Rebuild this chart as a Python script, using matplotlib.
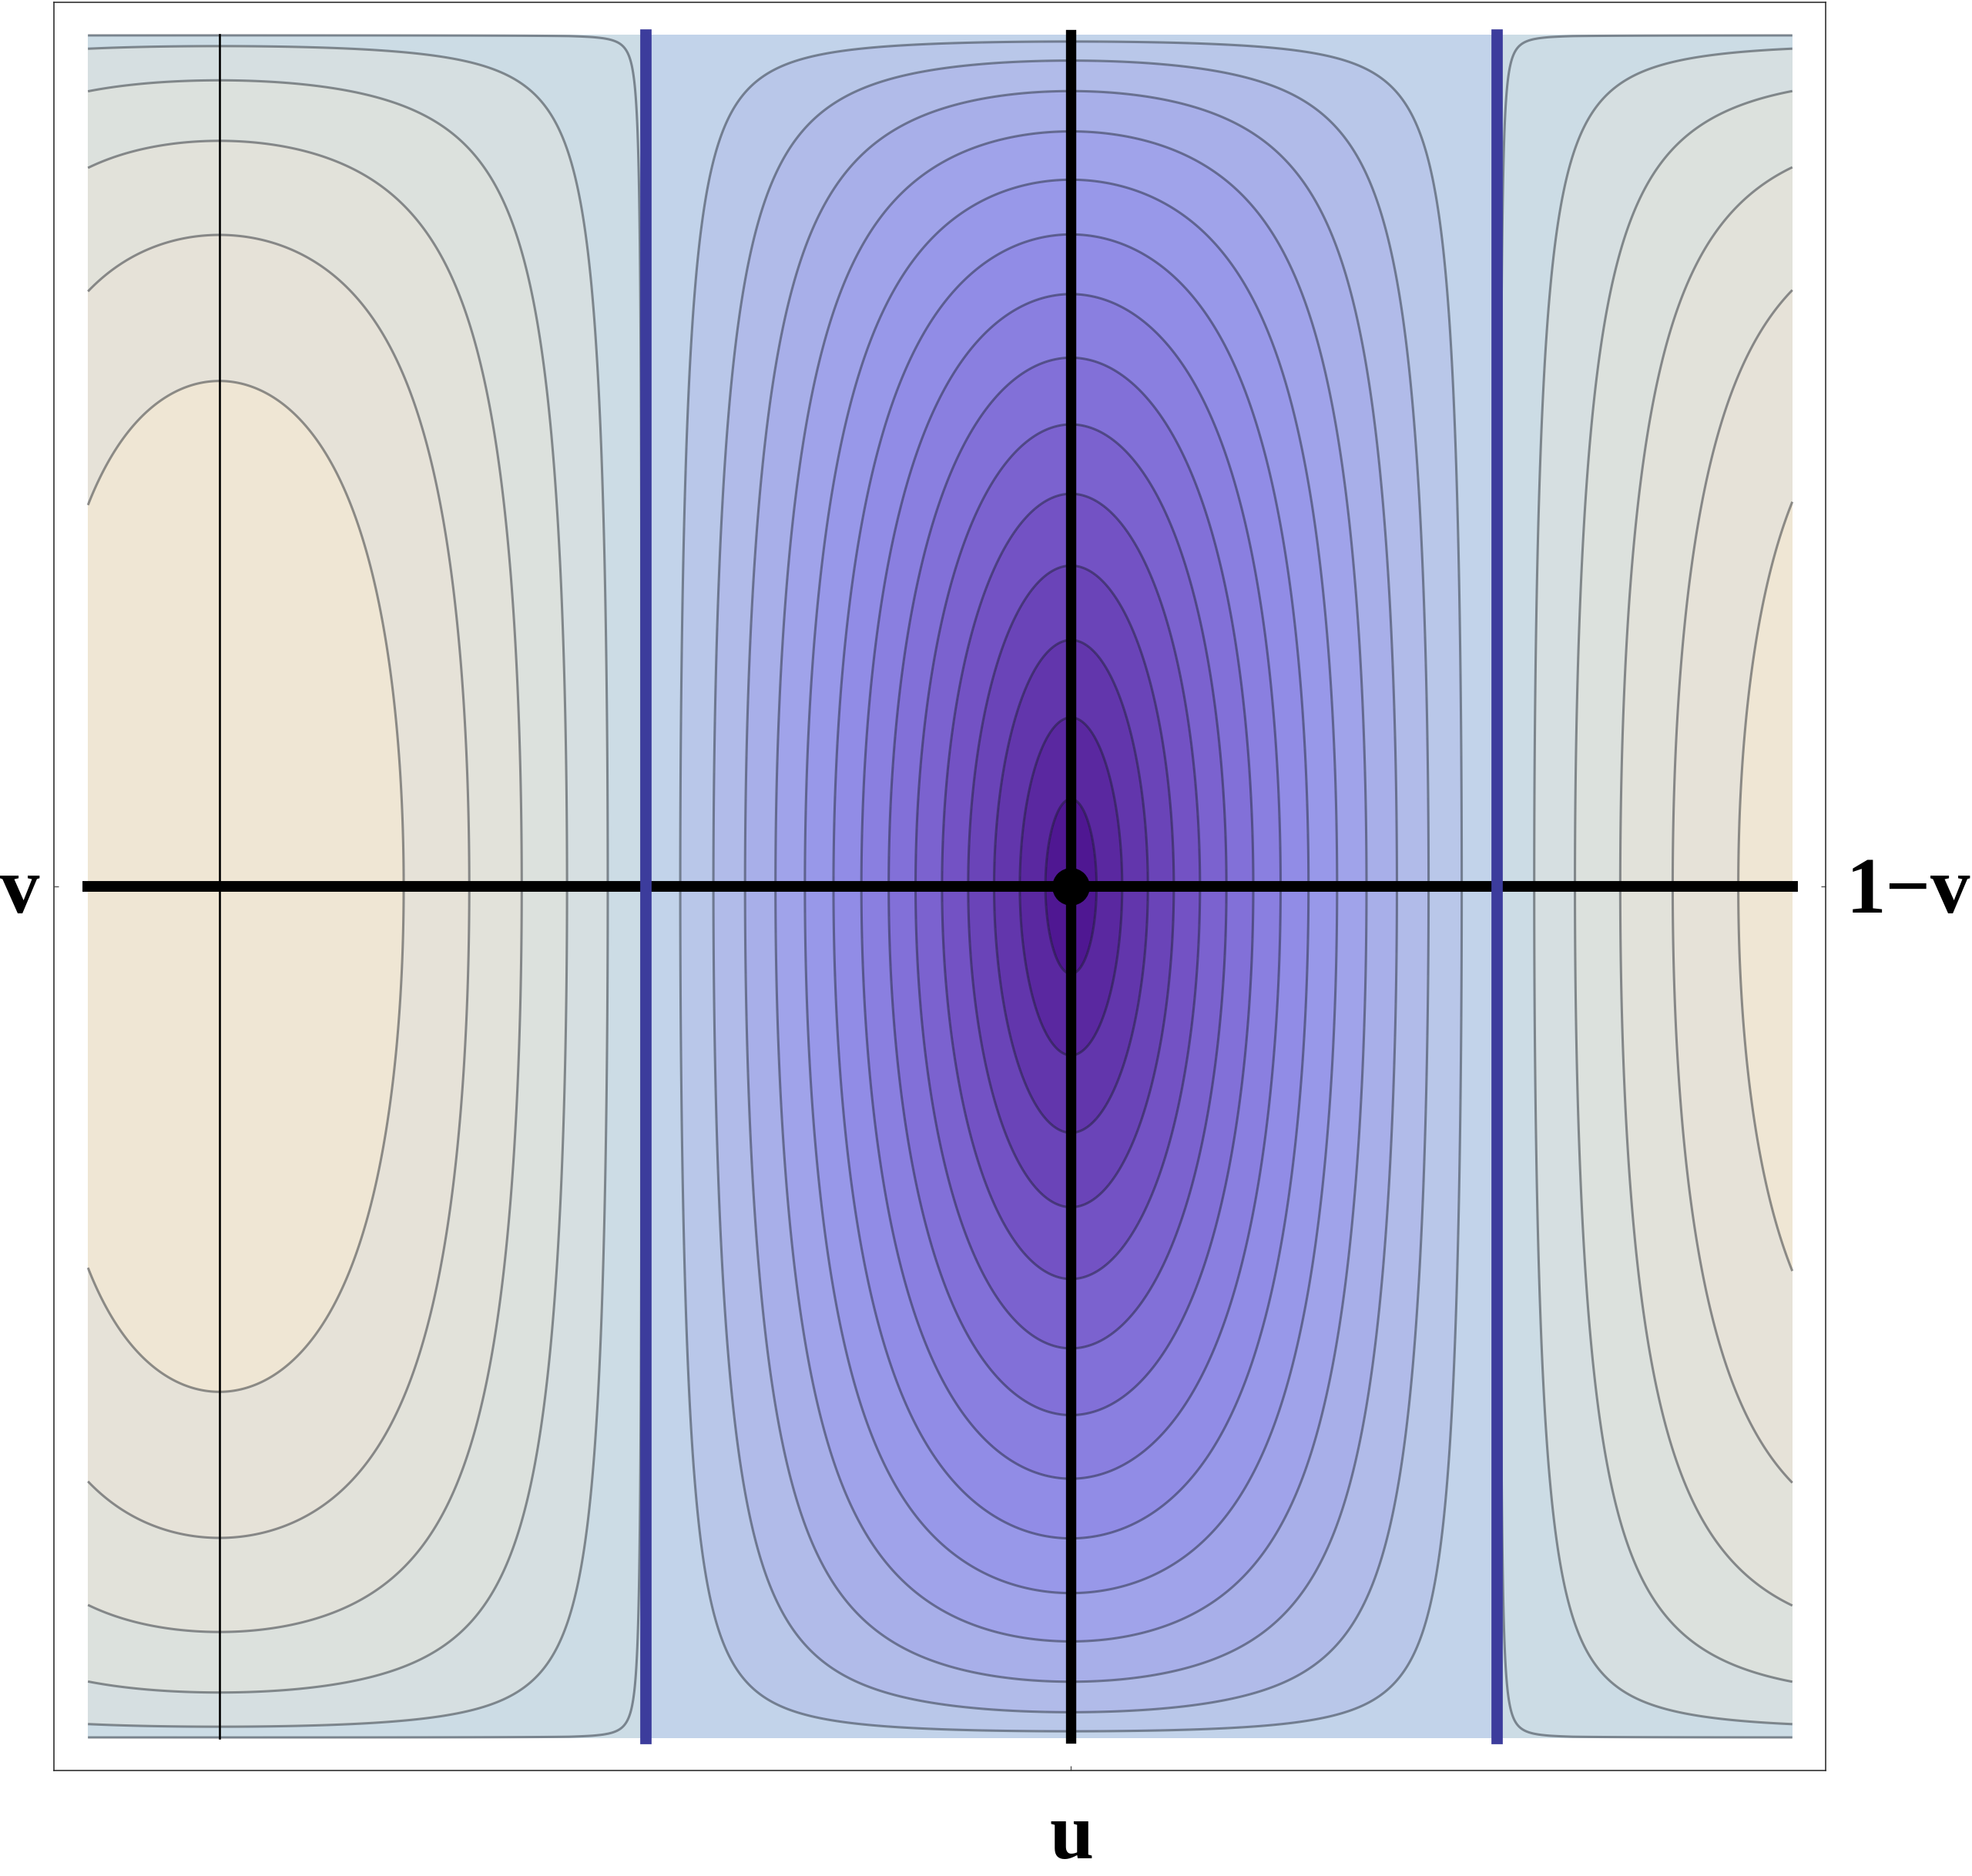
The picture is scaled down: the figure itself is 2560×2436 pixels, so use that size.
import numpy as np
import matplotlib
matplotlib.use('Agg')
import matplotlib.pyplot as plt

# window of the plot (horizontal: half periods from the centre, vertical: normalised)
u_min, u_max = -1.1544, 0.8471
s_min, s_max = -1.0, 1.0
frame_x = (-1.1942, 0.8864)
frame_y = (-1.0384, 1.0384)

# parameters of the plotted field
offset = 1 / np.sqrt(2)      # value that gives the zero contour
decay = 0.62                 # vertical fall-off of the central well
n_steps = 15                 # contour steps between the minimum and zero
level_index = np.arange(1, 21)
edge_level = 0.0046          # grey zero contour hugging the edges on the positive side

zero_lines = [-0.5, 0.5]     # thick blue zero contours
max_lines = [-1.0]           # thin black line through the maximum
centre = [0.0, 0.0]

side_labels = ['v', '1\u2212v']
bottom_label = 'u'

band_colors = ['#4f1792', '#5a28a0', '#6236ac', '#6a44b8', '#7352c4', '#7b62cf',
               '#8270d8', '#8a7fe0', '#918ce6', '#9898e9', '#a0a3ea', '#a8afe9',
               '#b1bbe9', '#b9c7e9', '#c2d3ea', '#ccdce5', '#d6dfe1', '#dce1dd',
               '#e2e2da', '#e6e2d8', '#efe6d4']

levels = -offset + level_index * offset / n_steps

u = np.linspace(u_min, u_max, 1600)
s = np.linspace(s_min, s_max, 1600)
U, S = np.meshgrid(u, s)
sn = np.abs(np.sin(np.pi * U / 2))
g = np.where(np.abs(U) < 0.5, np.cos(np.pi * U) ** 2, 0.0)
q = offset * (1 - np.exp(-decay * np.abs(S)))
rho = np.sqrt(sn ** 2 + g * q ** 2)
F = np.sqrt(np.clip(1 - S ** 2, 0, None)) * (rho - offset)

fig = plt.figure(figsize=(25.6, 24.36), dpi=100)
ax = fig.add_axes([70.2 / 2560, 137 / 2436, 2300 / 2560, 2296 / 2436])

bounds = np.concatenate([[F.min() - 1e-9], levels, [F.max() + 1e-9]])
ax.contourf(U, S, F, levels=bounds, colors=band_colors)
line_levels = [l for i, l in zip(level_index, levels) if i != n_steps]
line_levels = sorted(line_levels + [edge_level])
ax.contour(U, S, F, levels=line_levels, colors=[(0.08, 0.1, 0.14, 0.45)],
           linewidths=2.2, linestyles='solid')

ax.plot([u_min, u_max], [0, 0], color='k', lw=10, solid_capstyle='projecting')
ax.plot([centre[0], centre[0]], [s_min, s_max], color='k', lw=9.6,
        solid_capstyle='projecting')
for x in max_lines:
    ax.plot([x, x], [s_min, s_max], color='k', lw=1.9)
for x in zero_lines:
    ax.plot([x, x], [s_min, s_max], color='#3c3c9c', lw=10.6,
            solid_capstyle='projecting')
ax.plot(centre[0], centre[1], 'o', color='k', ms=34)

ax.set_xlim(frame_x)
ax.set_ylim(frame_y)
ax.set_xticks([0])
ax.set_yticks([0])
ax.tick_params(direction='in', length=4, width=1, color='#555555',
               left=True, right=True, bottom=True, top=False,
               labelleft=False, labelbottom=False)
for sp in ax.spines.values():
    sp.set_color('#333333')
    sp.set_linewidth(1.2)

font = dict(family='Liberation Serif', weight='bold', size=74)
fig.text(25.5 / 2560, 1 - 1185 / 2436, side_labels[0], ha='center', va='baseline', **font)
fig.text(2477 / 2560, 1 - 1185 / 2436, side_labels[1], ha='center', va='baseline', **font)
fig.text(1391 / 2560, 1 - 2413 / 2436, bottom_label, ha='center', va='baseline', **font)

fig.savefig('out.png', dpi=100)
